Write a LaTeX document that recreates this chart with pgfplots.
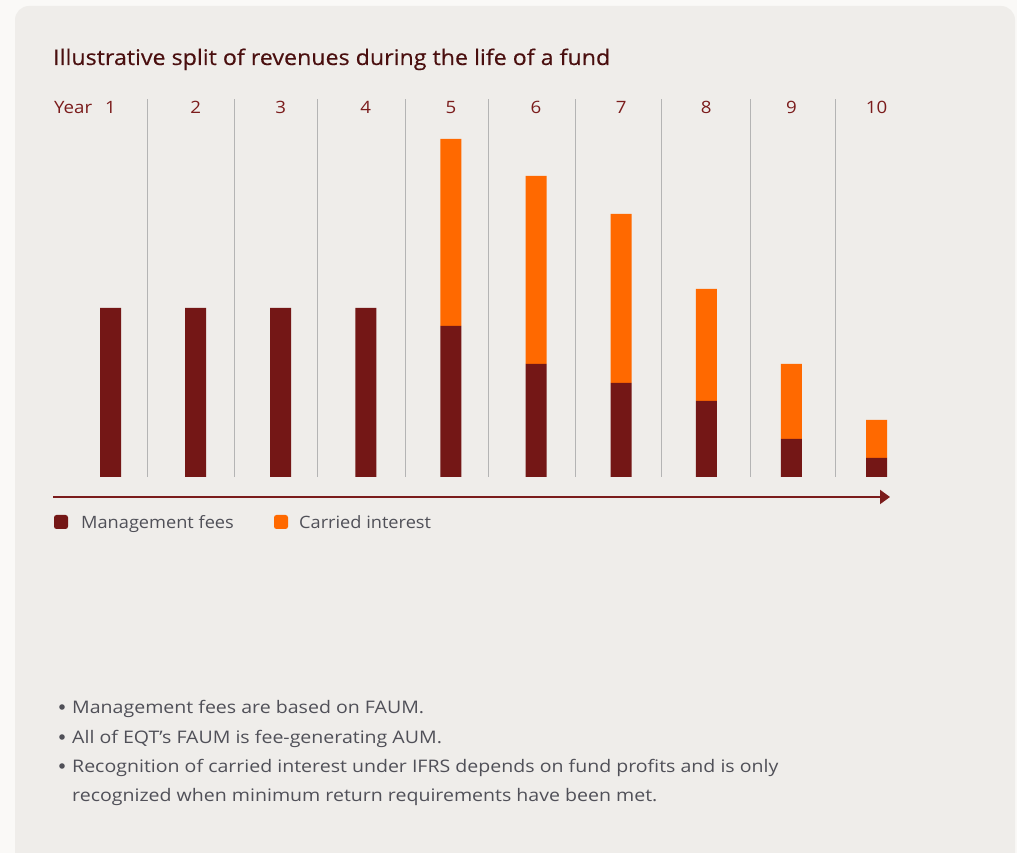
\documentclass[border=0pt]{standalone}
\usepackage{pgfplots}
\pgfplotsset{compat=1.18}
\usepackage{fontspec}
\setmainfont{Open Sans}
\newfontfamily\titlefont[FakeBold=0.4,FakeStretch=1.08]{Open Sans}
\newfontfamily\legfont[FakeStretch=1.07]{Open Sans}
\newfontfamily\bulfont[FakeStretch=1.13]{Open Sans}
\newfontfamily\yearfont[FakeStretch=1.1]{Open Sans}
\usetikzlibrary{arrows.meta}
\definecolor{outerbg}{HTML}{FAF9F7}
\definecolor{panel}{HTML}{EFEDEA}
\definecolor{mgmt}{HTML}{741716}
\definecolor{carry}{HTML}{FF6900}
\definecolor{titlec}{HTML}{4A0F0F}
\definecolor{yearc}{HTML}{7B1C1C}
\definecolor{textg}{HTML}{505058}
\definecolor{sepc}{HTML}{B4B4B4}
\pgfplotstableread{
year mgmt carry
1 169 0
2 169 0
3 169 0
4 169 0
5 151 187
6 113 188
7 94 169
8 76 112
9 38 75
10 19 38
}\revtable
\begin{document}
\begin{tikzpicture}[x=1pt,y=1pt]
\useasboundingbox (0,0) rectangle (1017,853);
\fill[outerbg] (0,0) rectangle (1017,853);
\fill[panel,rounded corners=14pt] (15,-20) rectangle (1015,847);
% title
\node[anchor=base west,inner sep=0,text=titlec,font=\titlefont\fontsize{21.5}{26}\selectfont] at (53,853-65) {Illustrative split of revenues during the life of a fund};
\begin{axis}[
  at={(67.95pt,376pt)}, anchor=south west,
  scale only axis, width=851.1pt, height=377pt,
  xmin=0.5, xmax=10.5, ymin=0, ymax=377,
  hide axis, clip=false,
  ybar stacked, bar width=21pt,
]
\addplot[fill=mgmt, draw=none] table[x=year,y=mgmt] {\revtable};
\addplot[fill=carry, draw=none] table[x=year,y=carry] {\revtable};
\pgfplotsinvokeforeach{1.438,2.457,3.436,4.470,5.445,6.467,7.474,8.516,9.518}{
  \draw[sepc, line width=1.2pt] (axis cs:#1,0) -- (axis cs:#1,378);
}
\pgfplotsinvokeforeach{1,...,10}{
  \node[anchor=base,inner sep=0,text=yearc,font=\yearfont\fontsize{17}{20}\selectfont] at (axis cs:#1,363) {#1};
}
\node[anchor=base west,inner sep=0,text=yearc,font=\yearfont\fontsize{17}{20}\selectfont] at (axis cs:0.5,363) {\hspace*{-14pt}Year};
\end{axis}
% arrow
\draw[yearc, line width=2pt, -{Triangle[length=10pt,width=14pt]}] (53,853-497) -- (890,853-497);
% legend
\fill[mgmt, rounded corners=2.5pt] (54,853-529) rectangle (68,853-515);
\node[anchor=base west,inner sep=0,text=textg,font=\legfont\fontsize{17}{21}\selectfont] at (81,853-529) {Management fees};
\fill[carry, rounded corners=2.5pt] (274,853-529) rectangle (288,853-515);
\node[anchor=base west,inner sep=0,text=textg,font=\legfont\fontsize{17}{21}\selectfont] at (299,853-529) {Carried interest};
% bullets
\foreach \yy/\txt in {714/{Management fees are based on FAUM.},744/{All of EQT’s FAUM is fee-generating AUM.},773/{Recognition of carried interest under IFRS depends on fund profits and is only},802/{recognized when minimum return requirements have been met.}}{
  \node[anchor=base west,inner sep=0,text=textg,font=\bulfont\fontsize{17.3}{21}\selectfont] at (72,853-\yy) {\txt};
}
\foreach \yy in {707,737,766}{
  \fill[textg] (62,853-\yy) circle (2.8pt);
}
\end{tikzpicture}
\end{document}
